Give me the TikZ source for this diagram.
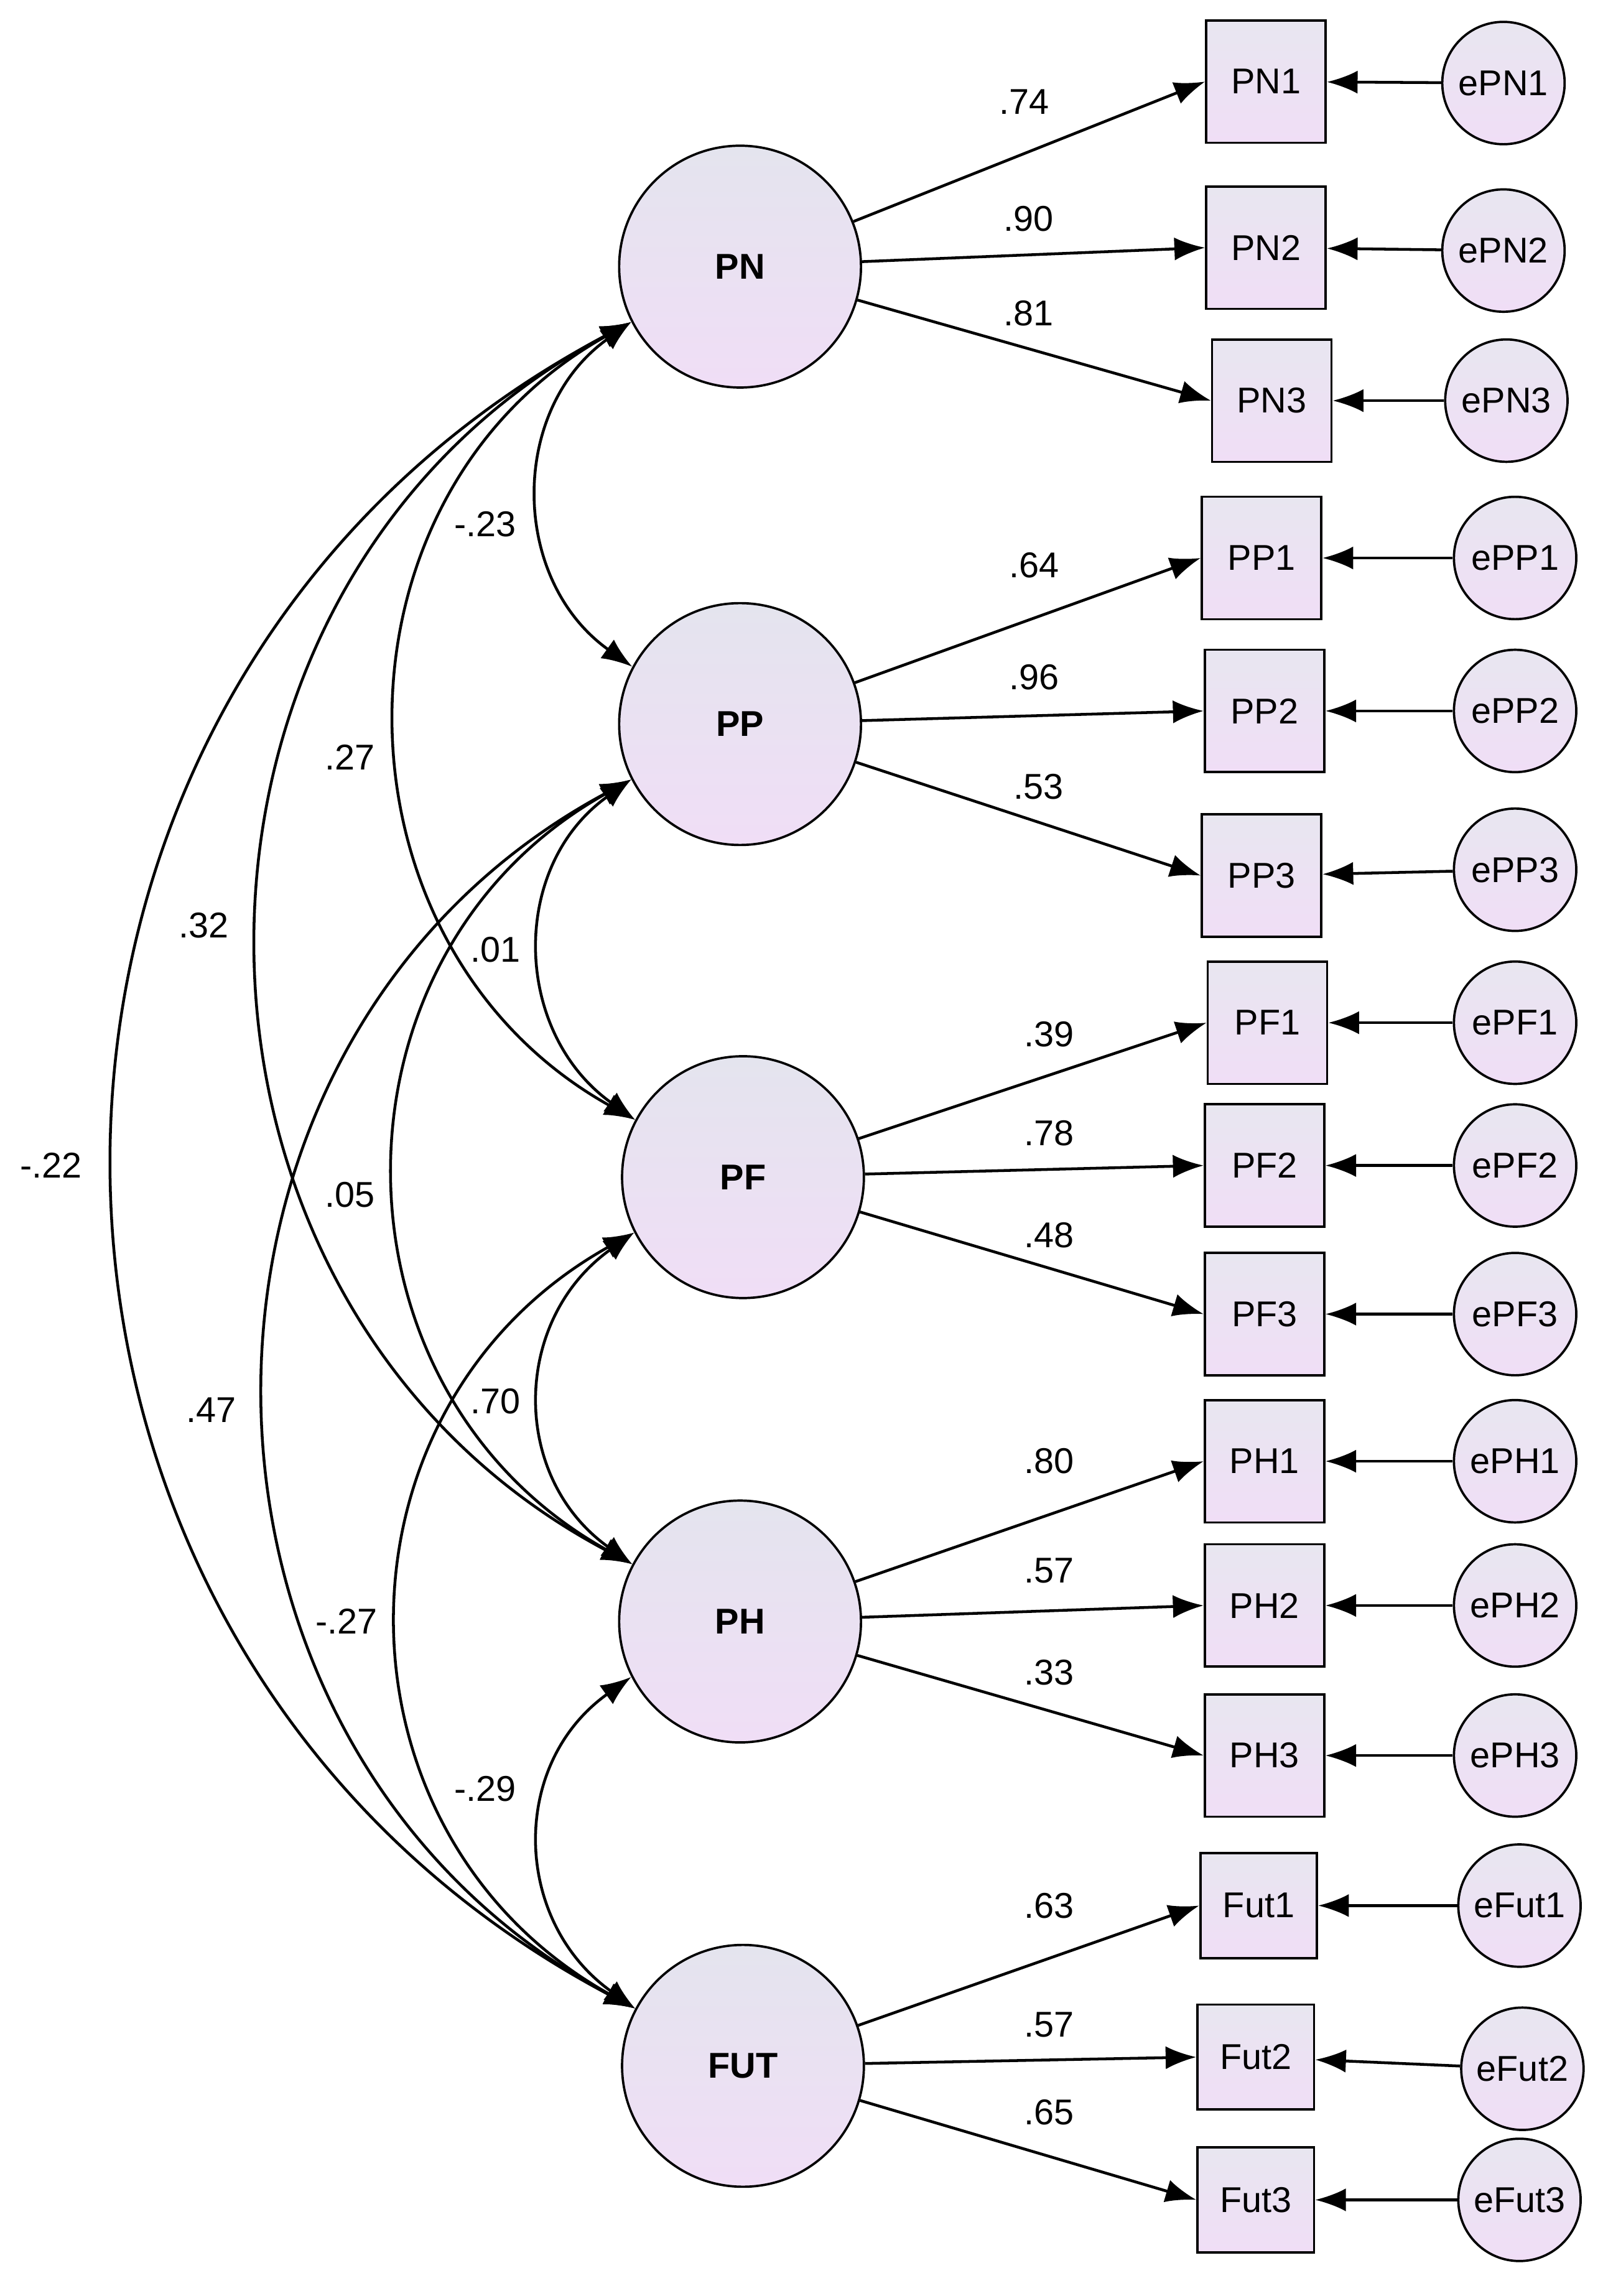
\documentclass[tikz,border=0pt]{standalone}
\usepackage{fontspec}
\setmainfont{Liberation Sans}
\usetikzlibrary{arrows.meta}
\begin{document}
\begin{tikzpicture}[x=0.02cm,y=-0.02cm,
  font=\fontsize{14}{16}\selectfont,
  lat/.style={circle,draw,line width=0.9pt,minimum size=166*0.02cm,inner sep=0pt,top color={rgb,255:red,228;green,228;blue,238},bottom color={rgb,255:red,240;green,222;blue,246},font=\fontsize{14}{16}\selectfont\bfseries},
  obs/.style={rectangle,draw,line width=0.9pt,minimum width=82*0.02cm,minimum height=84*0.02cm,inner sep=0pt,top color={rgb,255:red,232;green,230;blue,240},bottom color={rgb,255:red,240;green,222;blue,246}},
  err/.style={circle,draw,line width=0.9pt,minimum size=84*0.02cm,inner sep=0pt,top color={rgb,255:red,232;green,230;blue,240},bottom color={rgb,255:red,240;green,222;blue,246}},
  arr/.style={line width=1.1pt,-{Latex[length=12pt,width=9pt]}},
  cov/.style={line width=1.1pt,{Latex[length=12pt,width=9pt]}-{Latex[length=12pt,width=9pt]}}]
\useasboundingbox (0,0) rectangle (1100,1576);
\node[lat] (PN) at (508,183) {PN};
\node[lat] (PP) at (508,497) {PP};
\node[lat] (PF) at (510,808) {PF};
\node[lat] (PH) at (508,1113) {PH};
\node[lat] (FUT) at (510,1418) {FUT};
% observed and errors
\foreach \n/\x/\y/\ex/\ey in {PN1/869/56/1032/57,PN2/869/170/1032/172,PN3/873/275/1034/275,
 PP1/866/383/1040/383,PP2/868/488/1040/488,PP3/866/601/1040/597,
 PF1/870/702/1040/702,PF2/868/800/1040/800,PF3/868/902/1040/902,
 PH1/868/1003/1040/1003,PH2/868/1102/1040/1102,PH3/868/1205/1040/1205}{
 \node[obs] (\n) at (\x,\y) {\n};
 \node[err] (e\n) at (\ex,\ey) {e\n};
 \draw[arr] (e\n) -- (\n);
}
\foreach \n/\x/\y/\ex/\ey in {Fut1/864/1308/1043/1308,Fut2/862/1412/1045/1420,Fut3/862/1510/1043/1510}{
 \node[obs,minimum width=80*0.02cm,minimum height=72*0.02cm] (\n) at (\x,\y) {\n};
 \node[err] (e\n) at (\ex,\ey) {e\n};
 \draw[arr] (e\n) -- (\n);
}
% loadings
\draw[arr] (PN) -- (PN1.west);
\draw[arr] (PN) -- (PN2.west);
\draw[arr] (PN) -- (PN3.west);
\draw[arr] (PP) -- (PP1.west);
\draw[arr] (PP) -- (PP2.west);
\draw[arr] (PP) -- (PP3.west);
\draw[arr] (PF) -- (PF1.west);
\draw[arr] (PF) -- (PF2.west);
\draw[arr] (PF) -- (PF3.west);
\draw[arr] (PH) -- (PH1.west);
\draw[arr] (PH) -- (PH2.west);
\draw[arr] (PH) -- (PH3.west);
\draw[arr] (FUT) -- (Fut1.west);
\draw[arr] (FUT) -- (Fut2.west);
\draw[arr] (FUT) -- (Fut3.west);
\foreach \t/\x/\y in {.74/703/70,.90/706/150,.81/706/215,.64/710/388,.96/710/465,.53/713/540,
 .39/720/710,.78/720/778,.48/720/848,.80/720/1003,.57/720/1078,.33/720/1148,
 .63/720/1308,.57/720/1390,.65/720/1450}
 \node at (\x,\y) {\t};
% covariances
\draw[cov] (PN.207) .. controls +(-84,60) and +(-84,-60) .. (PP.152);
\draw[cov] (PP.207) .. controls +(-84,60) and +(-84,-60) .. (PF.152);
\draw[cov] (PF.207) .. controls +(-84,60) and +(-84,-60) .. (PH.152);
\draw[cov] (PH.207) .. controls +(-84,60) and +(-84,-60) .. (FUT.152);
\draw[cov] (PN.207) .. controls +(-215,120) and +(-215,-120) .. (PF.152);
\draw[cov] (PP.207) .. controls +(-215,120) and +(-215,-120) .. (PH.152);
\draw[cov] (PF.207) .. controls +(-215,120) and +(-215,-120) .. (FUT.152);
\draw[cov] (PN.207) .. controls +(-340,180) and +(-340,-180) .. (PH.152);
\draw[cov] (PP.207) .. controls +(-335,180) and +(-335,-180) .. (FUT.152);
\draw[cov] (PN.207) .. controls +(-473,250) and +(-473,-250) .. (FUT.152);
\foreach \t/\x/\y in {-.23/333/360,.27/240/520,.32/140/635,-.22/35/800,.01/340/652,
 .05/240/820,.47/145/968,.70/340/962,-.27/238/1113,-.29/333/1228}
 \node at (\x,\y) {\t};
\end{tikzpicture}
\end{document}
